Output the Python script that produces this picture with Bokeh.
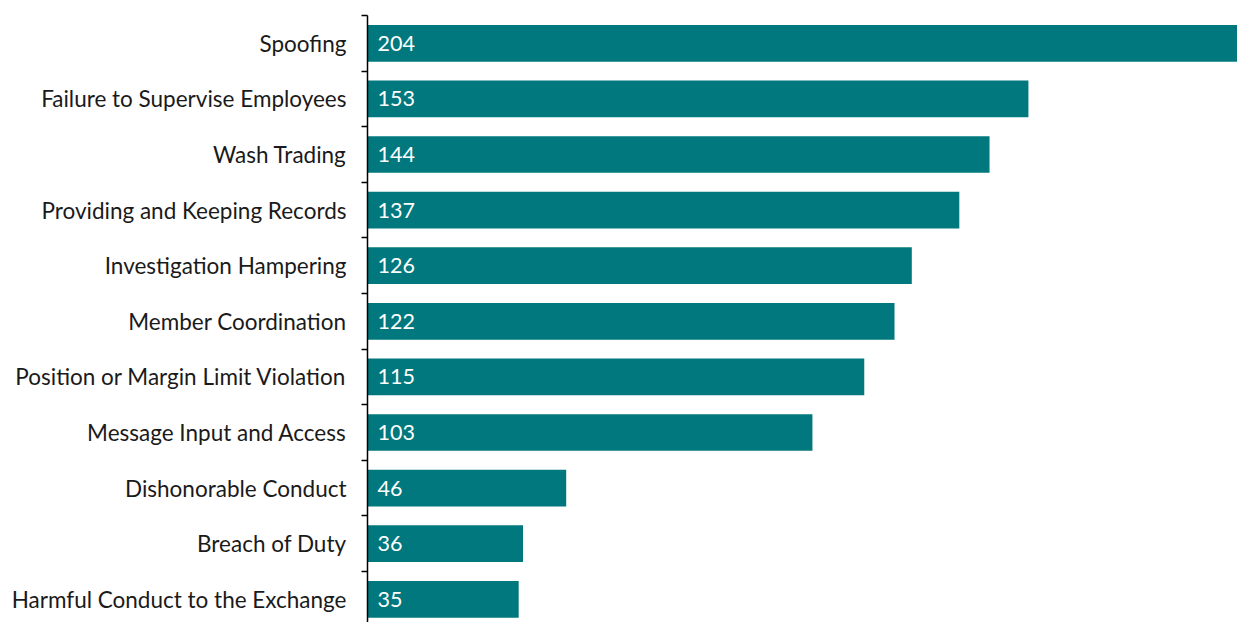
from bokeh.plotting import figure
from bokeh.models import Range1d, FixedTicker, ColumnDataSource, LabelSet
from bokeh.core.properties import value
from bokeh.embed import file_html
from bokeh.resources import INLINE

categories = ["Spoofing", "Failure to Supervise Employees", "Wash Trading",
              "Providing and Keeping Records", "Investigation Hampering",
              "Member Coordination", "Position or Margin Limit Violation",
              "Message Input and Access", "Dishonorable Conduct",
              "Breach of Duty", "Harmful Conduct to the Exchange"]
counts = [204, 153, 144, 137, 126, 122, 115, 103, 46, 36, 35]

n = len(categories)
ypos = [n - 0.5 - i for i in range(n)]
src = ColumnDataSource(dict(y=ypos, v=counts, lab=[str(c) for c in counts], cat=categories))

p = figure(width=1237, height=622, output_backend="svg", toolbar_location=None,
           x_range=Range1d(0, 201.4), y_range=Range1d(0.083, n),
           min_border_left=367, min_border_top=15, min_border_bottom=0, min_border_right=0)
p.hbar(y="y", right="v", left=0, height=0.66, source=src, color="#00787E", line_color=None)

labels = LabelSet(x=0, y="y", text="lab", source=src, x_offset=10, text_color="white",
                  text_font=value("Lato"), text_font_size="21.5px", text_baseline="middle")
p.add_layout(labels)

p.xaxis.visible = False
p.xgrid.visible = False
p.ygrid.visible = False
p.outline_line_color = None

yax = p.yaxis[0]
yax.ticker = FixedTicker(ticks=ypos, minor_ticks=list(range(0, n + 1)))
yax.major_label_overrides = {y: c for y, c in zip(ypos, categories)}
yax.major_tick_out = 0
yax.major_tick_in = 0
yax.minor_tick_out = 6
yax.minor_tick_in = 0
yax.minor_tick_line_color = "black"
yax.minor_tick_line_width = 1.5
yax.axis_line_color = "black"
yax.axis_line_width = 1.5
yax.major_label_standoff = 15
yax.major_label_text_font = "Lato"
yax.major_label_text_font_size = "22.5px"
yax.major_label_text_color = "#1a1a1a"

open("out.html", "w").write(file_html(p, INLINE))
